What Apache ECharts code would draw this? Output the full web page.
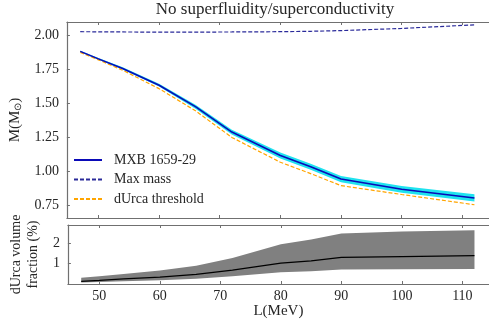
<!DOCTYPE html>
<html>
<head>
<meta charset="utf-8">
<script src="https://cdn.jsdelivr.net/npm/echarts@6/dist/echarts.min.js"></script>
<style>
  html, body { margin: 0; padding: 0; background: #fff; }
  #main { width: 489px; height: 321px; }
</style>
</head>
<body>
<div id="main"></div>
<script>
// L (MeV) sample points
var L = [47, 50, 54, 60, 66, 72, 80, 85, 90, 100, 112];

// top panel: masses (M_sun)
var mxbMid  = [1.880, 1.825, 1.755, 1.632, 1.475, 1.289, 1.118, 1.035, 0.945, 0.870, 0.807];
var mxbLow  = [1.876, 1.819, 1.747, 1.622, 1.460, 1.271, 1.096, 1.013, 0.922, 0.845, 0.780];
var mxbHigh = [1.884, 1.831, 1.763, 1.642, 1.490, 1.307, 1.140, 1.057, 0.968, 0.895, 0.834];
var maxMass = [2.024, 2.023, 2.022, 2.021, 2.021, 2.022, 2.024, 2.027, 2.032, 2.048, 2.074];
var durca   = [1.873, 1.818, 1.742, 1.607, 1.445, 1.250, 1.068, 0.985, 0.897, 0.832, 0.757];

// bottom panel: dUrca volume fraction (%)
var fracMid  = [0.13, 0.18, 0.25, 0.34, 0.47, 0.68, 1.03, 1.14, 1.31, 1.35, 1.39];
var fracLow  = [0.07, 0.10, 0.14, 0.19, 0.26, 0.38, 0.58, 0.63, 0.71, 0.73, 0.74];
var fracHigh = [0.31, 0.38, 0.49, 0.66, 0.90, 1.28, 1.95, 2.19, 2.48, 2.58, 2.64];

var xTicks = [50, 60, 70, 80, 90, 100, 110];
var mTicks = [0.75, 1.00, 1.25, 1.50, 1.75, 2.00];
var fTicks = [1, 2];

function pairs(xs, ys) {
    return xs.map(function (x, i) { return [x, ys[i]]; });
}

// filled band between lo and hi, drawn once through the axis scales
function band(xIdx, yIdx, lo, hi, color) {
    return {
        type: 'custom', xAxisIndex: xIdx, yAxisIndex: yIdx, silent: true,
        data: pairs(L, lo), z: 1,
        renderItem: function (params, api) {
            if (params.dataIndex !== 0) return null;
            var pts = [];
            for (var i = 0; i < L.length; i++) pts.push(api.coord([L[i], lo[i]]));
            for (var j = L.length - 1; j >= 0; j--) pts.push(api.coord([L[j], hi[j]]));
            return { type: 'polygon', shape: { points: pts }, style: { fill: color } };
        }
    };
}

var FONT = 'Liberation Serif';
var TXT = '#262626';
var SPINE = '#707070';

var chartDom = document.getElementById('main');
var myChart = echarts.init(chartDom);

function xAx(grid, pos, labels) {
    return {
        type: 'value', gridIndex: grid, position: pos,
        min: 44.8, max: 114.4,
        axisLine: { show: true, onZero: false, lineStyle: { color: SPINE, width: 1.2 } },
        axisTick: { show: true, inside: true, length: 3, customValues: xTicks, lineStyle: { color: SPINE } },
        axisLabel: { show: labels, customValues: xTicks, margin: 5, fontFamily: FONT, fontSize: 14, color: TXT },
        splitLine: { show: false }
    };
}

var option = {
    animation: false,
    backgroundColor: '#fff',
    title: {
        text: 'No superfluidity/superconductivity',
        left: 275, top: 1, padding: 0, textAlign: 'center',
        textStyle: { fontFamily: FONT, fontSize: 17, fontWeight: 'normal', color: TXT }
    },
    legend: {
        data: ['MXB 1659-29', 'Max mass', 'dUrca threshold'],
        orient: 'vertical', left: 73, top: 153, padding: 0,
        itemWidth: 28, itemHeight: 10, itemGap: 5.5,
        itemStyle: { opacity: 0 },
        textStyle: { fontFamily: FONT, fontSize: 14, color: TXT, lineHeight: 14, padding: [0, 0, 0, 7] }
    },
    grid: [
        { left: 60, top: 22, width: 432, height: 196 },
        { left: 60, top: 225, width: 432, height: 59 }
    ],
    xAxis: [
        xAx(0, 'bottom', false),
        xAx(0, 'top', false),
        Object.assign(xAx(1, 'bottom', true), {
            name: 'L(MeV)', nameLocation: 'middle', nameGap: 20,
            nameTextStyle: { fontFamily: FONT, fontSize: 15, color: TXT }
        }),
        xAx(1, 'top', false)
    ],
    yAxis: [
        {
            type: 'value', gridIndex: 0, min: 0.66, max: 2.095,
            name: 'M(M{sub|⊙})', nameLocation: 'middle', nameGap: 36, nameRotate: 90,
            nameTextStyle: {
                fontFamily: FONT, fontSize: 15, color: TXT,
                rich: { sub: { fontFamily: FONT, fontSize: 10, color: TXT, verticalAlign: 'bottom', padding: [6, 0, 0, 0] } }
            },
            axisLine: { show: true, lineStyle: { color: SPINE, width: 1.2 } },
            axisTick: { show: true, inside: true, length: 3, customValues: mTicks, lineStyle: { color: SPINE } },
            axisLabel: {
                customValues: mTicks, margin: 8, fontFamily: FONT, fontSize: 14, color: TXT,
                formatter: function (v) { return v.toFixed(2); }
            },
            splitLine: { show: false }
        },
        {
            type: 'value', gridIndex: 1, min: 0, max: 2.9,
            name: 'dUrca volume\nfraction (%)', nameLocation: 'middle', nameGap: 11, nameRotate: 90,
            nameTextStyle: { fontFamily: FONT, fontSize: 14, color: TXT, lineHeight: 17 },
            axisLine: { show: true, lineStyle: { color: SPINE, width: 1.2 } },
            axisTick: { show: true, inside: true, length: 3, customValues: fTicks, lineStyle: { color: SPINE } },
            axisLabel: { customValues: fTicks, margin: 8, fontFamily: FONT, fontSize: 14, color: TXT },
            splitLine: { show: false }
        }
    ],
    series: [
        band(0, 0, mxbLow, mxbHigh, '#1fe3ef'),
        {
            name: 'Max mass', type: 'line', xAxisIndex: 0, yAxisIndex: 0, z: 3,
            symbol: 'none', color: '#2a2a9a',
            lineStyle: { color: '#2a2a9a', width: 1.2, type: [4, 2] }, data: pairs(L, maxMass)
        },
        {
            name: 'dUrca threshold', type: 'line', xAxisIndex: 0, yAxisIndex: 0, z: 3,
            symbol: 'none', color: '#ffa500',
            lineStyle: { color: '#ffa500', width: 1.2, type: [4, 2] }, data: pairs(L, durca)
        },
        {
            name: 'MXB 1659-29', type: 'line', xAxisIndex: 0, yAxisIndex: 0, z: 4,
            symbol: 'none', color: '#0a0ab8',
            lineStyle: { color: '#0a0ab8', width: 1.6 }, data: pairs(L, mxbMid)
        },
        band(2, 1, fracLow, fracHigh, '#808080'),
        {
            name: 'fracMid', type: 'line', xAxisIndex: 2, yAxisIndex: 1, z: 4,
            symbol: 'none', lineStyle: { color: '#000', width: 1.3 }, data: pairs(L, fracMid)
        }
    ]
};

option && myChart.setOption(option);
</script>
</body>
</html>
